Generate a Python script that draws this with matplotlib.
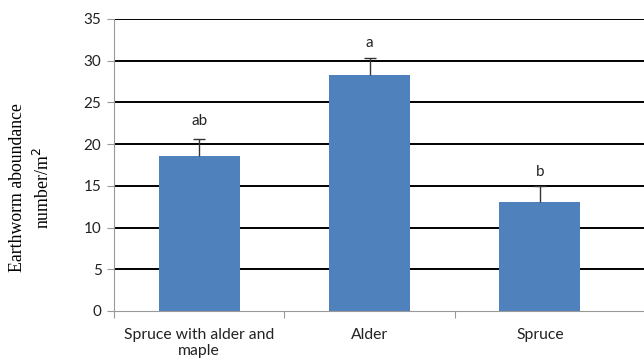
import matplotlib
matplotlib.use("Agg")
import matplotlib.pyplot as plt

categories = ["Spruce with alder and\nmaple", "Alder", "Spruce"]
values = [18.6, 28.3, 13.1]
errors = [2.0, 2.0, 1.9]
letters = ["ab", "a", "b"]
letter_y = [22.8, 32.1, 16.7]
yticks = [0, 5, 10, 15, 20, 25, 30, 35]

fig = plt.figure(figsize=(6.44, 3.6), dpi=100)
ax = fig.add_axes([114/644, 49/360, 1 - 114/644, 292/360])

x = list(range(len(categories)))
ax.set_axisbelow(True)
for t in yticks[1:]:
    ax.axhline(t, color="black", lw=1.4, zorder=1)
bars = ax.bar(x, values, width=0.475, color="#4f81bd", zorder=2,
              yerr=[[0]*3, errors],
              error_kw=dict(ecolor="#333333", elinewidth=1, capsize=4, capthick=1))
caps = bars.errorbar.lines[1]
if len(caps) == 2:
    caps[0].set_visible(False)
for xi, l, ly in zip(x, letters, letter_y):
    ax.text(xi, ly, l, ha="center", va="center", fontsize=11, family="Lato", color="#222222")

ax.set_ylim(0, 35)
ax.set_xlim(-0.5, 2.5 + 19/170.5)
ax.set_yticks(yticks)
ax.set_yticklabels([str(t) for t in yticks], fontsize=11, family="Lato", color="#222222")
ax.set_xticks([-0.5, 0.5, 1.5], minor=False)
ax.set_xticklabels([])
ax.set_xticks(x, minor=True)
ax.set_xticklabels(categories, minor=True, fontsize=11.3, family="Lato", color="#222222",
                   linespacing=1.25)
ax.tick_params(axis="x", which="minor", length=0, pad=12)
ax.tick_params(axis="x", which="major", length=5, color="#999999")
ax.tick_params(axis="y", length=5, color="#999999", pad=4)
for s in ["top", "right"]:
    ax.spines[s].set_visible(False)
ax.spines["left"].set_color("#999999")
ax.spines["bottom"].set_color("#999999")

fig.text(31/644, 172/360, "Earthworm aboundance\nnumber/m$^2$", rotation=90, ha="center", va="center",
         fontsize=12.8, family="Liberation Serif", linespacing=1.45)
fig.savefig("out.png", dpi=100)
